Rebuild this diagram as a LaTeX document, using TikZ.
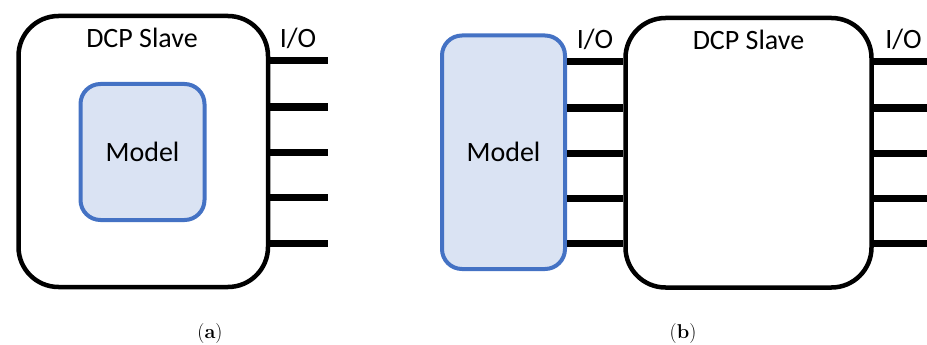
\documentclass[tikz,border=0pt]{standalone}
\usepackage{fontspec}
\newfontfamily\carlito{Carlito}
\definecolor{modelfill}{HTML}{DAE3F3}
\definecolor{modelline}{HTML}{4472C4}
\begin{document}
\begin{tikzpicture}[x=1pt,y=-1pt,
  slavebox/.style={draw=black,line width=4.5pt,fill=white,rounded corners=40pt,inner sep=0pt},
  modelbox/.style={draw=modelline,line width=4pt,fill=modelfill,rounded corners=20pt,inner sep=0pt,
    font=\carlito\fontsize{28}{32}\selectfont},
  lbl/.style={font=\carlito\fontsize{28}{32}\selectfont,anchor=base,inner sep=0pt},
  io/.style={line width=7pt,black},
  captext/.style={font=\fontsize{20}{24}\selectfont,anchor=base,inner sep=0pt}]
\useasboundingbox (0,0) rectangle (927,345);
% (a)
\node[slavebox,minimum width=249.5pt,minimum height=271pt] (slaveA) at (143.25,151.5) {};
\node[modelbox,minimum width=124pt,minimum height=136pt] (modelA) at (142.5,152) {Model};
\node[lbl] (dcpA) at (142,48) {DCP Slave};
\node[lbl] (ioA) at (298,48) {I/O};
\foreach \i/\y in {1/61,2/107,3/152,4/197,5/243}{
  \coordinate (ea\i) at (328,\y);
  \draw[io] (ea\i -| slaveA.east) -- (ea\i);
}
% (b)
\node[modelbox,minimum width=123pt,minimum height=233.5pt] (modelB) at (503.5,152.25) {Model};
\node[slavebox,minimum width=246pt,minimum height=269.5pt] (slaveB) at (748.5,152.75) {};
\node[lbl] (dcpB) at (748.5,50) {DCP Slave};
\node[lbl] (ioB1) at (595,49) {I/O};
\node[lbl] (ioB2) at (903.5,49) {I/O};
\foreach \i/\y in {1/62,2/108,3/153,4/198,5/243}{
  \coordinate (lb\i) at (565,\y);
  \draw[io] (lb\i -| modelB.east) -- (lb\i -| slaveB.west);
  \coordinate (rb\i) at (927,\y);
  \draw[io] (rb\i -| slaveB.east) -- (rb\i);
}
% captions
\node[captext] (capA) at (210,338) {(\textbf{a})};
\node[captext] (capB) at (683,338) {(\textbf{b})};
\end{tikzpicture}
\end{document}
